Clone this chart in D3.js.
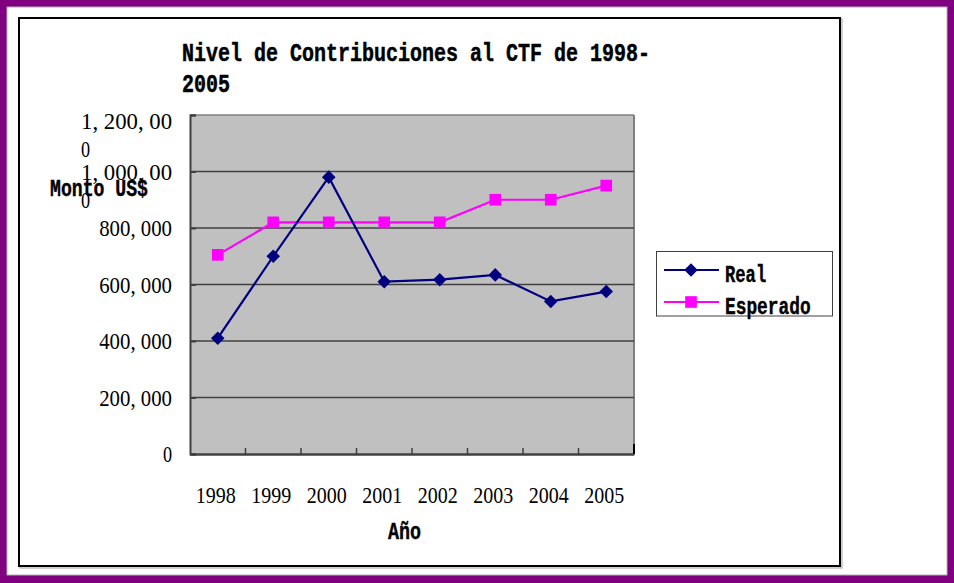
<!DOCTYPE html>
<html>
<head>
<meta charset="utf-8">
<script src="https://cdn.jsdelivr.net/npm/d3@7"></script>
<style>
html,body{margin:0;padding:0;background:#fff;}
svg{display:block;}
</style>
</head>
<body>
<svg id="chart" width="954" height="583"></svg>
<script>
const years = ["1998","1999","2000","2001","2002","2003","2004","2005"];
const realValues = [410000, 700000, 980000, 610000, 617000, 634000, 540000, 575000];
const esperadoValues = [705000, 820000, 820000, 820000, 820000, 900000, 900000, 950000];
const yTickValues = [0, 200000, 400000, 600000, 800000, 1000000, 1200000];
const yTickLabels = [["0"], ["200, 000"], ["400, 000"], ["600, 000"], ["800, 000"], ["1, 000, 00", "0"], ["1, 200, 00", "0"]];
const seriesNames = ["Real", "Esperado"];
const titleLines = ["Nivel de Contribuciones al CTF de 1998-", "2005"];
const xTitle = "Año";
const yTitle = "Monto US$";

const svg = d3.select("#chart");
const W = 954, H = 583;
const plot = {left: 190, right: 634, top: 115, bottom: 454};
const monoBold = "'Liberation Mono','DejaVu Sans Mono',monospace";
const serif = "'Liberation Serif','DejaVu Serif',serif";

// page frame
svg.append("rect").attr("x",0).attr("y",0).attr("width",W).attr("height",H).attr("fill","#800080");
svg.append("rect").attr("x",7).attr("y",7).attr("width",940).attr("height",568).attr("fill","#ffffff")
  .attr("stroke","#b0b0b0").attr("stroke-width",1);
// chart area border with shadow
svg.append("rect").attr("x",20).attr("y",19).attr("width",822).attr("height",549).attr("fill","none")
  .attr("stroke","#a0a0a0").attr("stroke-width",1);
svg.append("rect").attr("x",19).attr("y",18).attr("width",821).attr("height",548).attr("fill","#ffffff")
  .attr("stroke","#000").attr("stroke-width",2);

const x = d3.scaleBand().domain(years).range([plot.left, plot.right]).paddingInner(0).paddingOuter(0);
const y = d3.scaleLinear().domain([0, 1200000]).range([plot.bottom, plot.top]);

// plot background
svg.append("rect").attr("x",plot.left).attr("y",plot.top)
  .attr("width",plot.right-plot.left).attr("height",plot.bottom-plot.top)
  .attr("fill","#c0c0c0");
// top/right border gray
svg.append("line").attr("x1",plot.left).attr("x2",plot.right).attr("y1",plot.top).attr("y2",plot.top)
  .attr("stroke","#808080").attr("stroke-width",1.5);
svg.append("line").attr("x1",plot.right).attr("x2",plot.right).attr("y1",plot.top).attr("y2",plot.bottom)
  .attr("stroke","#808080").attr("stroke-width",2);

// gridlines
svg.append("g").selectAll("line").data(yTickValues.filter(v=>v>0 && v<1200000)).join("line")
  .attr("x1",plot.left).attr("x2",plot.right)
  .attr("y1",d=>y(d)).attr("y2",d=>y(d))
  .attr("stroke","#404040").attr("stroke-width",1.5);

// y axis
const yAxis = d3.axisLeft(y).tickValues(yTickValues).tickSize(-6).tickFormat("");
const gy = svg.append("g").attr("transform",`translate(${plot.left},0)`).call(yAxis);
gy.select(".domain").attr("stroke","#404040").attr("stroke-width",2);
gy.selectAll(".tick line").attr("stroke","#404040").attr("stroke-width",2);

// x axis with ticks between categories
const boundaries = years.slice(1).map(yv => x(yv));
svg.append("g").selectAll("line").data(boundaries).join("line")
  .attr("x1",d=>d).attr("x2",d=>d).attr("y1",plot.bottom).attr("y2",plot.bottom-6)
  .attr("stroke","#404040").attr("stroke-width",1.5);
const xAxis = d3.axisBottom(x).tickSize(0).tickFormat("");
const gx = svg.append("g").attr("transform",`translate(0,${plot.bottom})`).call(xAxis);
gx.select(".domain").attr("stroke","#404040").attr("stroke-width",2.5);
svg.append("rect").attr("x",plot.right-1).attr("y",plot.bottom-10).attr("width",2).attr("height",10).attr("fill","#000");

// y tick labels
const charW = 9.1;
yTickValues.forEach((v,i)=>{
  const lines = yTickLabels[i];
  const w1 = lines[0].length*charW;
  const startX = 172 - w1;
  const cy = Math.max(y(v), plot.top+6);
  lines.forEach((ln,j)=>{
    const t = svg.append("text").attr("x",startX).attr("y",cy + 8 + j*28)
      .attr("font-family",serif).attr("font-size",23).attr("fill","#000").text(ln);
    t.attr("textLength", ln.length*charW).attr("lengthAdjust","spacingAndGlyphs");
  });
});

// x tick labels
svg.append("g").selectAll("text").data(years).join("text")
  .attr("x",d=>x(d)+x.bandwidth()/2 - 2).attr("y",503)
  .attr("text-anchor","middle")
  .attr("font-family",serif).attr("font-size",23).attr("fill","#000")
  .attr("textLength",40).attr("lengthAdjust","spacingAndGlyphs")
  .text(d=>d);

// title
titleLines.forEach((t,i)=>{
  svg.append("text").attr("x",182).attr("y",61+i*31)
    .attr("font-family",monoBold).attr("font-weight","bold").attr("font-size",25).attr("fill","#000")
    .attr("stroke","#000").attr("stroke-width",0.5)
    .attr("textLength",t.length*12).attr("lengthAdjust","spacingAndGlyphs").text(t);
});

// axis titles
svg.append("text").attr("x",388).attr("y",539)
  .attr("font-family",monoBold).attr("font-weight","bold").attr("font-size",23)
  .attr("stroke","#000").attr("stroke-width",0.4)
  .attr("textLength",33).attr("lengthAdjust","spacingAndGlyphs").text(xTitle);
svg.append("text").attr("x",50).attr("y",196)
  .attr("font-family",monoBold).attr("font-weight","bold").attr("font-size",23)
  .attr("stroke","#000").attr("stroke-width",0.4)
  .attr("textLength",98).attr("lengthAdjust","spacingAndGlyphs").text(yTitle);

// series
const colors = ["#000080", "#ff00ff"];
const seriesData = [realValues, esperadoValues];
const line = d3.line().x((d,i)=>x(years[i])+x.bandwidth()/2).y(d=>y(d));
const diamond = d3.symbol().type(d3.symbolSquare).size(92);
const square = d3.symbol().type(d3.symbolSquare).size(136);

[1,0].forEach(si=>{
  svg.append("path").datum(seriesData[si]).attr("d",line).attr("fill","none")
    .attr("stroke",colors[si]).attr("stroke-width",2.2);
  svg.append("g").selectAll("path").data(seriesData[si]).join("path")
    .attr("d", si===0 ? diamond : square)
    .attr("transform",(d,i)=>`translate(${x(years[i])+x.bandwidth()/2},${y(d)})` + (si===0?" rotate(45)":""))
    .attr("fill",colors[si]);
});

// legend
svg.append("rect").attr("x",656.5).attr("y",251.5).attr("width",176).attr("height",64.5)
  .attr("fill","#fff").attr("stroke","#404040").attr("stroke-width",1);
seriesNames.forEach((n,i)=>{
  const ly = 270 + i*32;
  svg.append("line").attr("x1",664).attr("x2",719).attr("y1",ly).attr("y2",ly)
    .attr("stroke",colors[i]).attr("stroke-width",2.2);
  svg.append("path").attr("d", i===0?diamond:square)
    .attr("transform",`translate(691,${ly})` + (i===0?" rotate(45)":""))
    .attr("fill",colors[i]);
  svg.append("text").attr("x",725).attr("y",ly+12)
    .attr("font-family",monoBold).attr("font-weight","bold").attr("font-size",23)
    .attr("stroke","#000").attr("stroke-width",0.4)
    .attr("textLength",n.length*(i===0?10.3:10.7)).attr("lengthAdjust","spacingAndGlyphs").text(n);
});
</script>
</body>
</html>
